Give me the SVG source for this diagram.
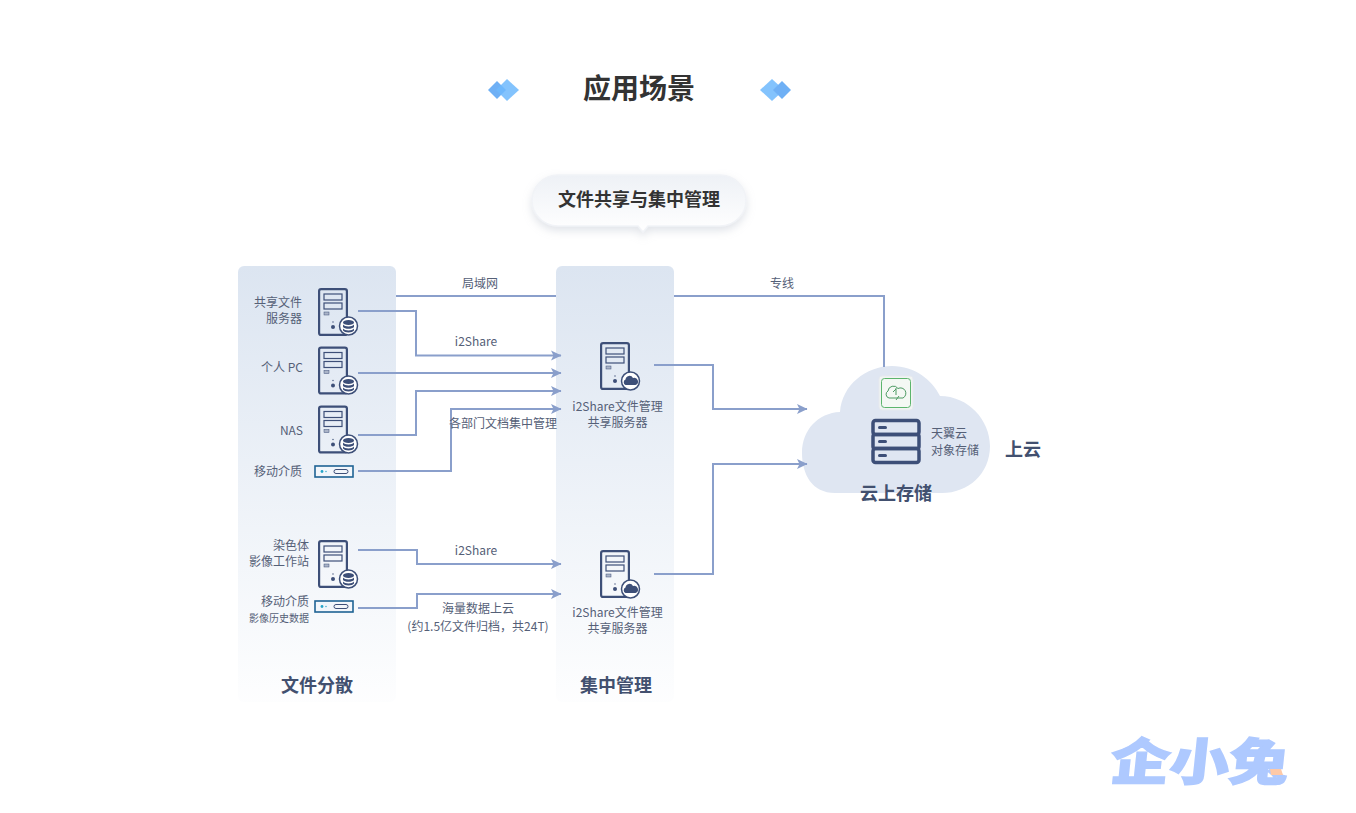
<svg xmlns="http://www.w3.org/2000/svg" xmlns:xlink="http://www.w3.org/1999/xlink" width="1356" height="813" viewBox="0 0 1356 813">
<style>
text{font-family:"Noto Sans CJK SC","Noto Sans",sans-serif}
.s{font-size:12px;fill:#556077}
.r{text-anchor:end}
.m{text-anchor:middle}
.h{font-size:18px;font-weight:700;fill:#42506f;text-anchor:middle}
.ln{fill:none;stroke:#8a9fcb;stroke-width:2}
.box{fill:none;stroke:#3d4f78;stroke-width:2.2}
.dk{fill:#3d4f78}
</style>
<defs>
<linearGradient id="col" x1="0" y1="0" x2="0" y2="1"><stop offset="0" stop-color="#dce5f1"/><stop offset="1" stop-color="#dce5f1" stop-opacity="0.05"/></linearGradient>
<linearGradient id="pill" x1="0" y1="0" x2="0" y2="1"><stop offset="0" stop-color="#eef1f6"/><stop offset="1" stop-color="#ffffff"/></linearGradient>
<filter id="sh" x="-20%" y="-30%" width="140%" height="170%"><feDropShadow dx="0" dy="4" stdDeviation="4" flood-color="#a9b1c0" flood-opacity="0.35"/></filter>
<marker id="ar" markerWidth="12" markerHeight="12" refX="11" refY="6" orient="auto" markerUnits="userSpaceOnUse"><path d="M1,1 L11.500,6 L1,11 L3.500,6 Z" fill="#8a9fcb"/></marker>
<g id="tower">
<rect x="1.1" y="1.1" width="27.8" height="45.8" rx="2" class="box"/>
<rect x="6" y="6" width="18" height="6" fill="none" stroke="#3d4f78" stroke-width="1.2"/>
<rect x="6" y="15" width="18" height="6" fill="none" stroke="#3d4f78" stroke-width="1.2"/>
<rect x="6" y="24" width="5" height="3" fill="#aab4c8" stroke="#3d4f78" stroke-width="0.5"/>
<circle cx="15" cy="34" r="0.7" class="dk"/><circle cx="15" cy="39" r="2" class="dk"/>
</g>
<g id="db">
<circle cx="0" cy="0" r="9" fill="#fff" stroke="#3d4f78" stroke-width="1.5"/>
<ellipse cx="0" cy="-3.5" rx="5.5" ry="2.6" class="dk"/>
<path d="M-5.5,-1.5 C-4,1 4,1 5.5,-1.5 V1 C4,3.4 -4,3.4 -5.5,1 Z" class="dk"/>
<path d="M-5.5,2.5 C-4,5 4,5 5.5,2.5 V4.5 C4,7 -4,7 -5.5,4.5 Z" class="dk"/>
</g>
<g id="cl">
<circle cx="0" cy="0" r="9" fill="#fff" stroke="#3d4f78" stroke-width="1.5"/>
<path d="M-5,4 A3,3 0 0 1 -5,-1.5 A4,4 0 0 1 2.5,-3 A3.6,3.6 0 0 1 5,4 Z" class="dk"/>
</g>
<g id="media">
<rect x="1" y="1" width="38" height="11" fill="#f2f6fb" stroke="#1f6394" stroke-width="1.6"/>
<circle cx="8" cy="6.5" r="1.4" fill="#27a5c8"/><circle cx="12" cy="6.500" r="0.7" fill="#27a5c8"/>
<rect x="20" y="4.5" width="14" height="4" rx="2" fill="none" stroke="#3d4f78" stroke-width="1"/>
</g>
</defs>

<g id="page-title">
<g id="deco-left"><path d="M497,81 L506,90 L497,99 L488,90 Z" fill="#6fb0f5"/><path d="M507,79 L519,90 L507,101 L496,90 Z" fill="#6db8fd" opacity="0.85"/></g>
<text x="639" y="99" class="m" font-size="28" font-weight="700" fill="#333">应用场景</text>
<g id="deco-right"><path d="M772,79 L784,90 L772,101 L760,90 Z" fill="#6db8fd" opacity="0.85"/><path d="M782,81 L791,90 L782,99 L773,90 Z" fill="#6fb0f5"/></g>
</g>

<g id="callout">
<path d="M558,175 H720 A26,25.500 0 0 1 720,226 H648 L643,232 L638,226 H558 A26,25.500 0 0 1 558,175 Z" fill="url(#pill)" stroke="#f1f3f7" stroke-width="1.500" filter="url(#sh)"/>
<text x="639" y="206" class="m" font-size="18" font-weight="700" fill="#333">文件共享与集中管理</text>
</g>

<g id="col-scatter"><rect x="238" y="266" width="158" height="436" rx="6" fill="url(#col)"/><text x="317" y="691.500" class="h">文件分散</text></g>
<g id="col-central"><rect x="556" y="266" width="118" height="436" rx="6" fill="url(#col)"/><text x="616" y="691.500" class="h">集中管理</text></g>

<g id="cloud">
<path d="M835,493 C812,493 802,474 802,453 C802,430 818,413 840,412 C842,385 866,366 892,366 C915,366 932,380 940,396 C968,396 990,420 990,446 C990,474 968,493 942,493 Z" fill="#dfe6f2"/>
</g>

<g id="connectors">
<path class="ln" d="M396,296 H556"/>
<path class="ln" d="M674,296 H884 V367"/>
<path class="ln" marker-end="url(#ar)" d="M358,311 H416 V355.500 H561"/>
<path class="ln" marker-end="url(#ar)" d="M358,373 H561"/>
<path class="ln" marker-end="url(#ar)" d="M358,435 H416 V391 H561"/>
<path class="ln" marker-end="url(#ar)" d="M358,471 H451 V409 H561"/>
<path class="ln" marker-end="url(#ar)" d="M358,550 H417 V564 H561"/>
<path class="ln" marker-end="url(#ar)" d="M358,608 H417 V594 H561"/>
<path class="ln" marker-end="url(#ar)" d="M654,365 H713 V409 H807"/>
<path class="ln" marker-end="url(#ar)" d="M654,574 H713 V464 H807"/>
</g>

<g id="edge-labels">
<text x="480" y="287.500" class="s m">局域网</text>
<text x="782" y="287.500" class="s m">专线</text>
<text x="476" y="346" class="s m">i2Share</text>
<text x="503" y="427.500" class="s m">各部门文档集中管理</text>
<text x="476" y="555" class="s m">i2Share</text>
<text x="478" y="613" class="s m">海量数据上云</text>
<text x="478" y="631" class="s m">(约1.5亿文件归档，共24T)</text>
</g>

<g id="node-file-server"><use href="#tower" x="318" y="288"/><use href="#db" x="348.500" y="326"/><text x="302" y="307" class="s r">共享文件</text><text x="302" y="323" class="s r">服务器</text></g>
<g id="node-pc"><use href="#tower" x="318" y="346.500"/><use href="#db" x="348.500" y="385"/><text x="303" y="372" class="s r">个人 PC</text></g>
<g id="node-nas"><use href="#tower" x="318" y="405.500"/><use href="#db" x="348.500" y="444"/><text x="303" y="435" class="s r">NAS</text></g>
<g id="node-media-1"><use href="#media" x="314" y="465"/><text x="302" y="476" class="s r">移动介质</text></g>
<g id="node-workstation"><use href="#tower" x="318" y="540"/><use href="#db" x="348.500" y="579"/><text x="309" y="550" class="s r">染色体</text><text x="309" y="566" class="s r">影像工作站</text></g>
<g id="node-media-2"><use href="#media" x="314" y="600"/><text x="309" y="606" class="s r">移动介质</text><text x="309" y="622" class="s r" style="font-size:10px">影像历史数据</text></g>
<g id="node-share-1"><use href="#tower" x="600" y="342"/><use href="#cl" x="630.500" y="381"/><text x="617.500" y="411" class="s m">i2Share文件管理</text><text x="617.500" y="426.500" class="s m">共享服务器</text></g>
<g id="node-share-2"><use href="#tower" x="600" y="550"/><use href="#cl" x="630.500" y="589"/><text x="617.500" y="617" class="s m">i2Share文件管理</text><text x="617.500" y="632.500" class="s m">共享服务器</text></g>

<g id="node-cloud-storage">
<rect x="879" y="376" width="34" height="34" rx="3" fill="#f1f4f3" stroke="#e6e9ee"/>
<rect x="881.500" y="378.500" width="29" height="29" rx="3" fill="#f4f8f4" stroke="#5cb56d" stroke-width="1"/>
<path d="M889,398 A3.800,3.800 0 0 1 888,391 A5.500,5.500 0 0 1 898,388.500 A4.600,4.600 0 0 1 903,398 H889 Z M896,388 V395 M893,392 L896,389 M896,400 L899,396" fill="none" stroke="#4d9a63" stroke-width="1"/>
<g fill="none" stroke="#3d4f78" stroke-width="3.500"><rect x="873" y="420.500" width="46" height="14" rx="2.500"/><rect x="873" y="434.500" width="46" height="14" rx="2"/><rect x="873" y="448.500" width="46" height="14" rx="2.500"/></g>
<rect x="878" y="426" width="9" height="3" rx="1.500" class="dk"/><rect x="878" y="440" width="9" height="3" rx="1.500" class="dk"/><rect x="878" y="454" width="9" height="3" rx="1.500" class="dk"/>
<text x="931" y="438" class="s">天翼云</text><text x="931" y="454.500" class="s">对象存储</text>
<text x="896" y="500" class="h">云上存储</text>
<text x="1023" y="456" class="h">上云</text>
</g>

<g id="watermark">
<text transform="translate(1198,780) skewX(-6)" x="0" y="0" class="m" font-size="50" font-weight="900" fill="#aec9ff" stroke="#aec9ff" stroke-width="1.500" textLength="178" lengthAdjust="spacingAndGlyphs">企小兔</text>
<path d="M1270,769 H1281 L1283,775 H1271 Z" fill="#fdc9a8"/>
</g>
</svg>
